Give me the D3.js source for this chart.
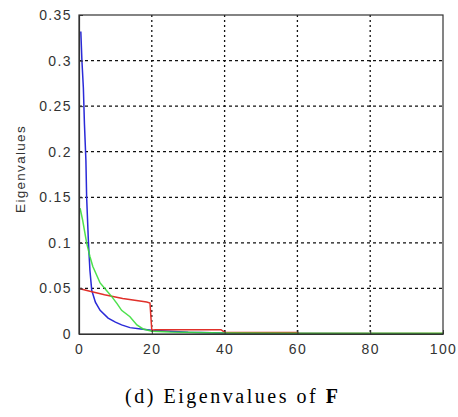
<!DOCTYPE html>
<html>
<head>
<meta charset="utf-8">
<script src="https://cdn.jsdelivr.net/npm/d3@7"></script>
<style>
  body { margin: 0; background: #fff; }
  .tick text { font-family: "Liberation Sans", Arial, sans-serif; }
</style>
</head>
<body>
<div id="chart"></div>
<script>
   var svgWidth = 458;
   var svgHeight = 417;

   var margin = {
       top: 15,
       right: 15,
       bottom: 83,
       left: 79
   };

   var width = 443 - margin.left;
   var height = 334 - margin.top;

   // Data: [index, eigenvalue]
   var xTicks = [0, 20, 40, 60, 80, 100];
   var yTicks = [0, 0.05, 0.1, 0.15, 0.2, 0.25, 0.3, 0.35];

   var blueSeries = [
       [0.5, 0.332], [0.8, 0.30], [1.2, 0.27], [1.5, 0.23], [1.9, 0.19],
       [2.1, 0.15], [2.6, 0.10], [3.0, 0.07], [3.5, 0.048], [4.5, 0.035],
       [5.8, 0.026], [8, 0.0175], [10, 0.013], [11.7, 0.010], [14, 0.007],
       [17, 0.0055], [20, 0.004], [25, 0.003], [30, 0.002], [40, 0.001],
       [60, 0.0006], [100, 0.0004]
   ];

   var greenSeries = [
       [0.3, 0.138], [1, 0.125], [2.1, 0.10], [3, 0.085], [3.8, 0.074],
       [5.8, 0.056], [7.5, 0.048], [9, 0.041], [10.5, 0.033], [11.7, 0.026],
       [14, 0.019], [15.9, 0.010], [17.6, 0.0055], [20, 0.003], [25, 0.0022],
       [40, 0.0012], [60, 0.0008], [100, 0.0008]
   ];

   var redSeries = [
       [0, 0.050], [3, 0.047], [7, 0.043], [12, 0.039], [18.6, 0.035],
       [19.5, 0.034], [20, 0.004], [21, 0.0048], [39, 0.0048], [40, 0.002],
       [44, 0.0016], [60, 0.0016], [60.5, 0.0005], [100, 0.0005]
   ];

   var svg = d3.select("#chart")
       .append("svg")
       .attr("width", svgWidth)
       .attr("height", svgHeight);

   var chartGroup = svg.append("g")
       .attr("transform", `translate(${margin.left}, ${margin.top})`);

   var xLinearScale = d3.scaleLinear()
       .domain([0, 100])
       .range([0, width]);

   var yLinearScale = d3.scaleLinear()
       .domain([0, 0.35])
       .range([height, 0]);

   // Grid lines (dotted, Matlab style)
   chartGroup.append("g")
       .selectAll("line")
       .data(xTicks.slice(1, -1))
       .enter()
       .append("line")
       .attr("x1", d => xLinearScale(d))
       .attr("x2", d => xLinearScale(d))
       .attr("y1", 0)
       .attr("y2", height)
       .attr("stroke", "#111")
       .attr("stroke-width", 1.3)
       .attr("stroke-dasharray", "2,3");

   chartGroup.append("g")
       .selectAll("line")
       .data(yTicks.slice(1, -1))
       .enter()
       .append("line")
       .attr("x1", 0)
       .attr("x2", width)
       .attr("y1", d => yLinearScale(d))
       .attr("y2", d => yLinearScale(d))
       .attr("stroke", "#111")
       .attr("stroke-width", 1.3)
       .attr("stroke-dasharray", "3,3");

   // Lines
   var line = d3.line()
       .x(d => xLinearScale(d[0]))
       .y(d => yLinearScale(d[1]));

   chartGroup.append("path")
       .datum(blueSeries)
       .attr("d", line)
       .attr("fill", "none")
       .attr("stroke", "#2a2ad8")
       .attr("stroke-width", 1.5);

   chartGroup.append("path")
       .datum(redSeries)
       .attr("d", line)
       .attr("fill", "none")
       .attr("stroke", "#e0302a")
       .attr("stroke-width", 1.5);

   chartGroup.append("path")
       .datum(greenSeries)
       .attr("d", line)
       .attr("fill", "none")
       .attr("stroke", "#3ade3a")
       .attr("stroke-width", 1.5)
       .attr("opacity", 0.9);

   // Axes
   var bottomAxis = d3.axisBottom(xLinearScale)
       .tickValues(xTicks)
       .tickSizeInner(-4)
       .tickSizeOuter(0)
       .tickPadding(10);
   var leftAxis = d3.axisLeft(yLinearScale)
       .tickValues(yTicks)
       .tickFormat(d => d3.format("")(+d.toFixed(2)))
       .tickSizeInner(-4)
       .tickSizeOuter(0)
       .tickPadding(10);

   var xg = chartGroup.append("g")
       .attr("transform", `translate(0, ${height})`)
       .call(bottomAxis);
   var yg = chartGroup.append("g")
       .call(leftAxis);

   [xg, yg].forEach(function(g) {
       g.select(".domain").attr("stroke", "#333").attr("stroke-width", 1.2);
       g.selectAll(".tick line").attr("stroke", "#333");
       g.selectAll(".tick text")
           .attr("fill", "#333")
           .style("font-size", "14px")
           .style("letter-spacing", "1.4px");
   });
   yg.selectAll(".tick text").attr("x", -7);

   // Box top and right
   chartGroup.append("rect")
       .attr("width", width)
       .attr("height", height)
       .attr("fill", "none")
       .attr("stroke", "#333")
       .attr("stroke-width", 1.2);

   // Axis label
   svg.append("text")
       .attr("transform", `translate(25, 169) rotate(-90)`)
       .style("font-family", "Liberation Sans, Arial, sans-serif")
       .style("font-size", "13.5px")
       .style("letter-spacing", "1.3px")
       .style("text-anchor", "middle")
       .attr("fill", "#333")
       .text("Eigenvalues");

   // Caption
   var caption = svg.append("text")
       .attr("x", 125)
       .attr("y", 403)
       .attr("textLength", 213)
       .attr("lengthAdjust", "spacing")
       .style("font-family", "Liberation Serif, serif")
       .style("font-size", "20px")
       .attr("fill", "#000");
   caption.append("tspan").text("(d) Eigenvalues of ");
   caption.append("tspan").style("font-weight", "bold").text("F");
</script>
</body>
</html>
